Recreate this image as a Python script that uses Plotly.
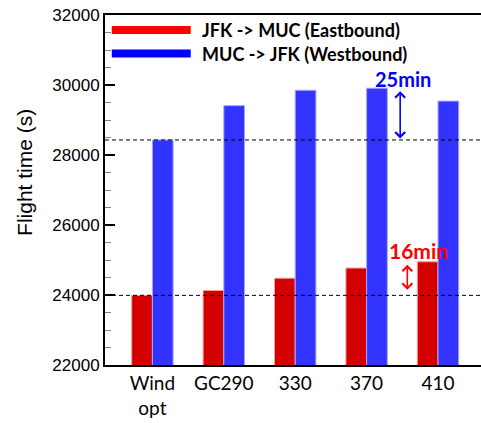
import plotly.graph_objects as go

# Flight time per routing option, both directions
categories = ["Wind<br>opt", "GC290", "330", "370", "410"]
eastbound = [23990, 24130, 24480, 24770, 24950]   # JFK -> MUC
westbound = [28430, 29410, 29850, 29910, 29540]   # MUC -> JFK
series_names = ["JFK -> MUC (Eastbound)", "MUC -> JFK (Westbound)"]
y_ticks = [22000, 24000, 26000, 28000, 30000, 32000]

RED_BAR, BLUE_BAR = "#d40000", "#3333ff"
RED_KEY, BLUE_KEY = "#ff0000", "#0000ff"

xpos = list(range(len(categories)))

fig = go.Figure()
fig.add_trace(go.Bar(x=xpos, y=eastbound, name=series_names[0], marker_color=RED_BAR,
                     marker_line=dict(color="#f2a0a0", width=1), showlegend=False))
fig.add_trace(go.Bar(x=xpos, y=westbound, name=series_names[1], marker_color=BLUE_BAR,
                     marker_line=dict(color="#a8a8ff", width=1), showlegend=False))

# reference lines at the wind-optimal flight times
for v in (eastbound[0], westbound[0]):
    fig.add_shape(type="line", xref="paper", x0=0, x1=1, yref="y", y0=v, y1=v,
                  line=dict(color="black", width=1, dash="4px,3px"), layer="above")

# time penalty arrows
east_gap = max(eastbound) - eastbound[0]
west_gap = max(westbound) - westbound[0]
west_x, east_x = 3.47, 3.57
fig.add_annotation(x=west_x, y=max(westbound), ax=west_x, ay=westbound[0], xref="x", yref="y",
                   axref="x", ayref="y", text="", showarrow=True, arrowside="end+start",
                   arrowhead=4, arrowsize=1.2, arrowwidth=1.6, arrowcolor=BLUE_KEY,
                   standoff=3, startstandoff=0)
fig.add_annotation(x=west_x + 0.04, y=max(westbound), yshift=9, xref="x", yref="y",
                   text=f"<b>{round(west_gap / 60)}min</b>", showarrow=False,
                   font=dict(family="Lato, Liberation Sans", size=20, color=BLUE_KEY))
fig.add_annotation(x=east_x, y=max(eastbound), ax=east_x, ay=eastbound[0], xref="x", yref="y",
                   axref="x", ayref="y", text="", showarrow=True, arrowside="end+start",
                   arrowhead=4, arrowsize=1.2, arrowwidth=1.6, arrowcolor=RED_KEY,
                   standoff=3, startstandoff=4)
fig.add_annotation(x=east_x + 0.15, y=max(eastbound), yshift=11, xref="x", yref="y",
                   text=f"<b>{round(east_gap / 60)}min</b>", showarrow=False,
                   font=dict(family="Lato, Liberation Sans", size=21, color=RED_KEY))

# legend: thick line keys with labels
for i, (name, col) in enumerate(zip(series_names, [RED_KEY, BLUE_KEY])):
    ky = 0.957 - i * 0.067
    fig.add_shape(type="line", xref="paper", yref="paper", x0=0.018, x1=0.228, y0=ky, y1=ky,
                  line=dict(color=col, width=8))
    fig.add_annotation(xref="paper", yref="paper", x=0.252, y=ky, xanchor="left", yanchor="middle",
                       text=f"<b>{name}</b>", showarrow=False,
                       font=dict(family="Lato, Liberation Sans", size=18, color="black"))

# y-axis title
fig.add_annotation(xref="paper", yref="paper", x=-0.252, y=0.551, text="Flight time (s)",
                   textangle=-90, showarrow=False,
                   font=dict(family="Liberation Sans, Arial", size=21, color="black"))

fig.update_layout(
    width=481, height=423,
    margin=dict(l=105, r=0, t=15, b=58),
    paper_bgcolor="white", plot_bgcolor="white",
    barmode="group", bargap=0.42, bargroupgap=0,
    font=dict(family="Liberation Sans, Arial", color="black"),
)
fig.update_xaxes(
    range=[-0.664, 4.602], tickvals=xpos, ticktext=categories,
    showline=True, linecolor="black", linewidth=2, mirror=True,
    ticks="", showgrid=False, zeroline=False,
    tickfont=dict(family="Lato, Liberation Sans", size=19, color="black"),
)
fig.update_yaxes(
    range=[22000, 32000], tickvals=y_ticks, ticktext=[str(t) for t in y_ticks],
    showline=True, linecolor="black", linewidth=2,
    ticks="inside", ticklen=10, tickwidth=2, tickcolor="black",
    minor=dict(dtick=500, ticks="inside", ticklen=6, tickwidth=1, tickcolor="#888888"),
    showgrid=False, zeroline=False,
    tickfont=dict(family="Liberation Sans, Arial", size=17, color="black"),
)

fig.write_html("out.html")
